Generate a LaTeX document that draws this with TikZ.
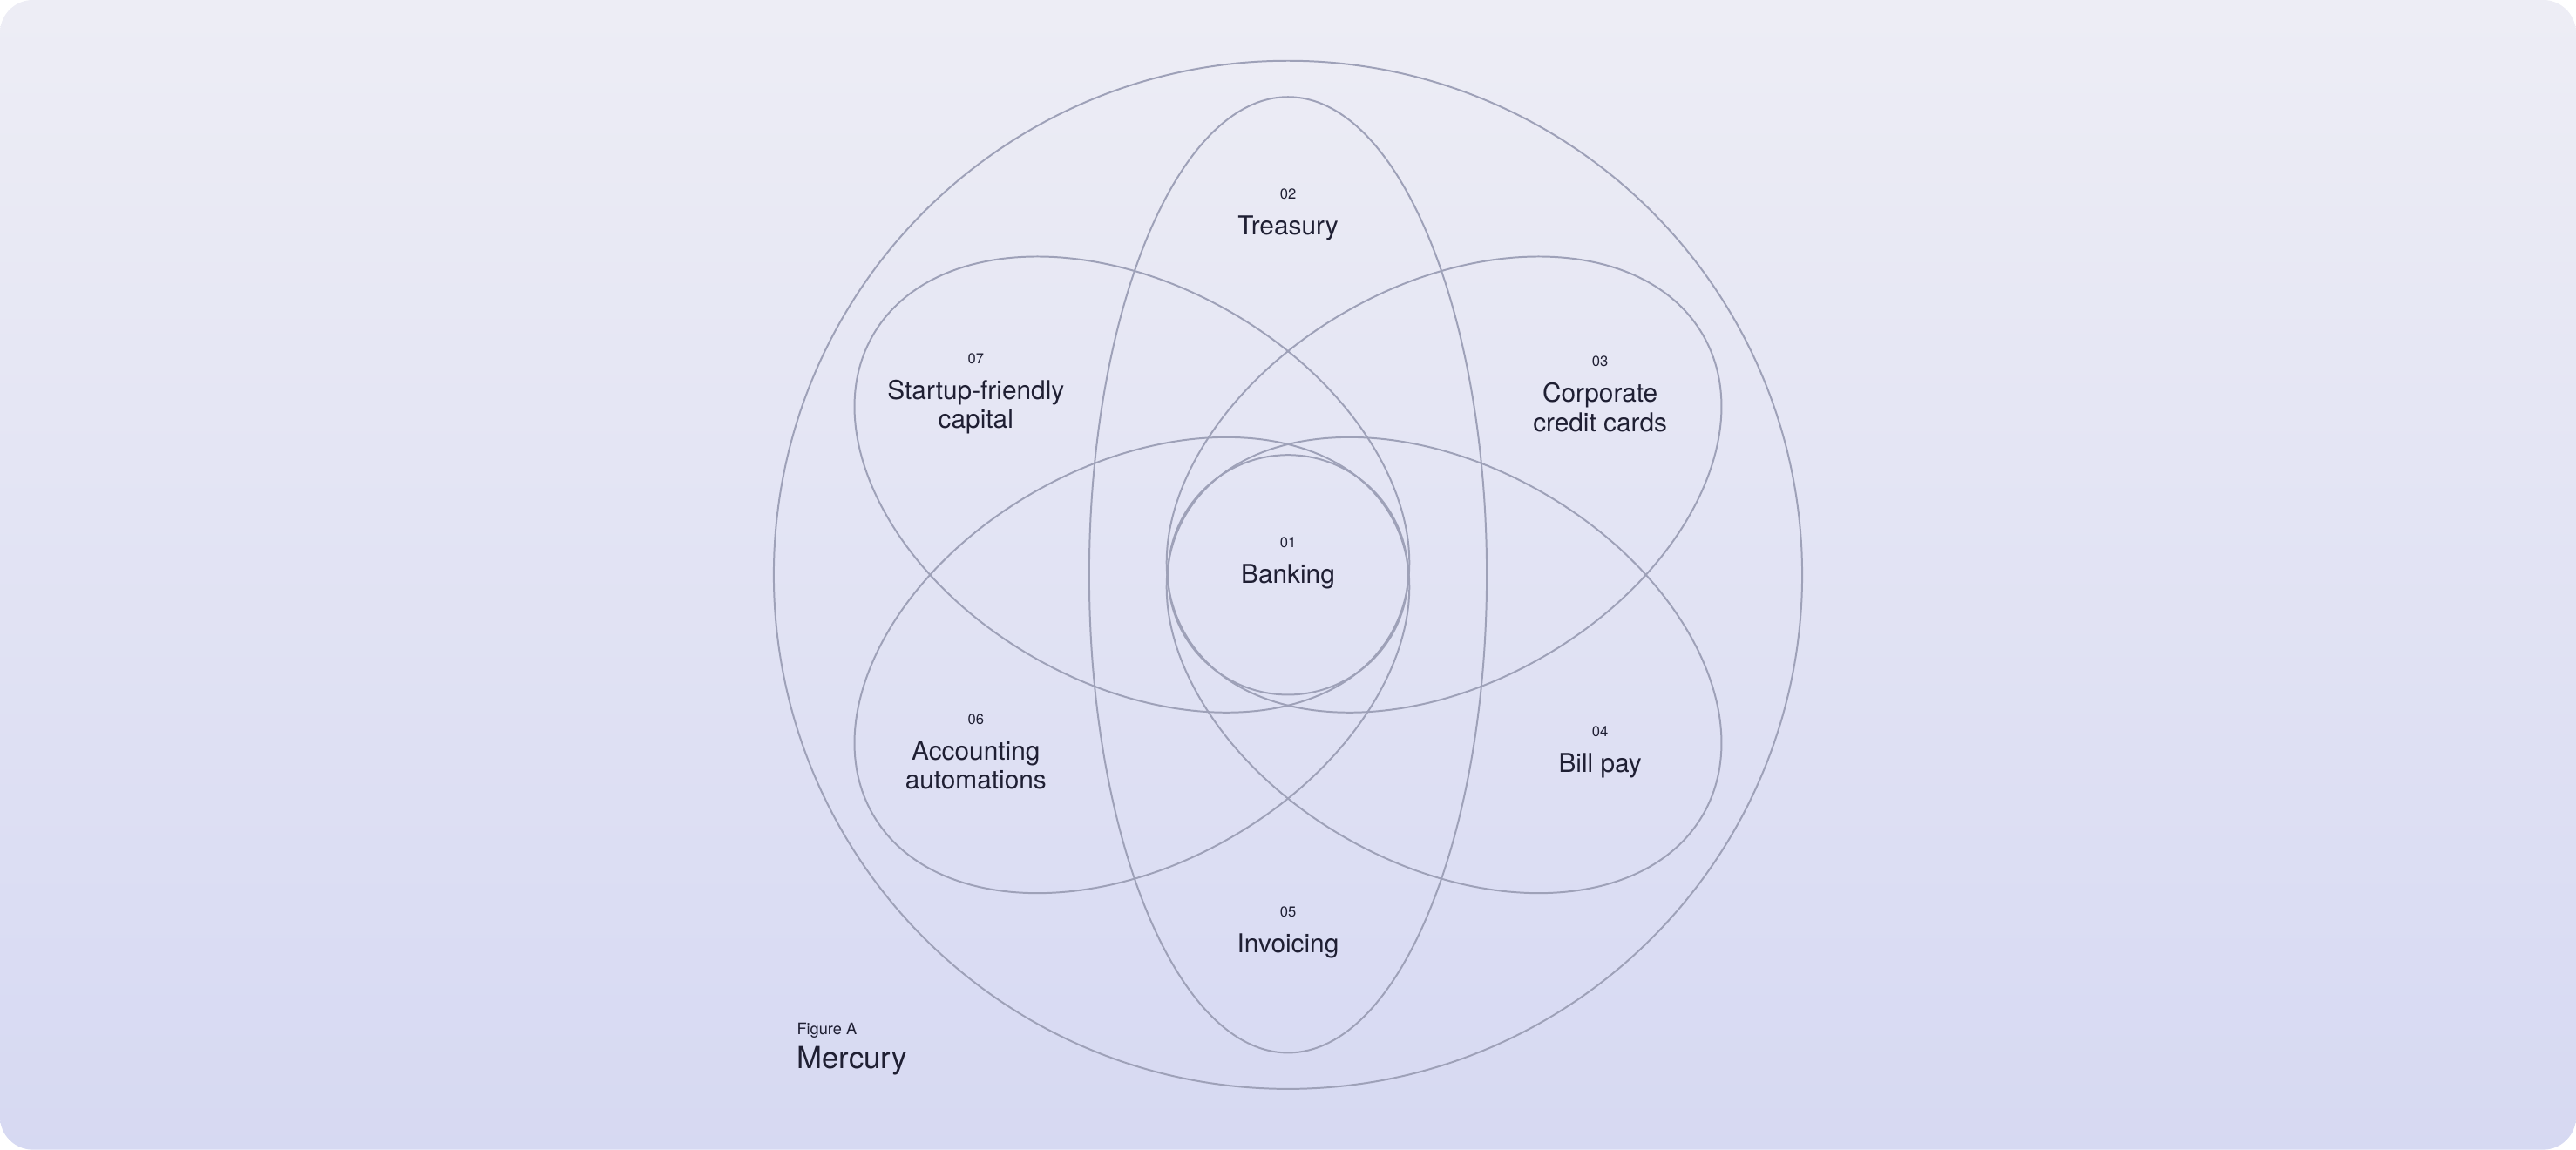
\documentclass[tikz,border=0pt]{standalone}
\usepackage{fontspec}
\setmainfont{TeX Gyre Heros}
\usetikzlibrary{positioning}
\definecolor{ringcol}{rgb}{0.62,0.63,0.72}
\definecolor{inkcol}{rgb}{0.12,0.12,0.20}
\definecolor{bgtop}{rgb}{0.93,0.93,0.96}
\definecolor{bgbot}{rgb}{0.84,0.85,0.95}
\tikzset{
	ring/.style = {draw = ringcol, line width = 0.6pt},
	petal/.style = {font = \fontsize{9}{10}\selectfont, text = inkcol, align = center},
	petalnum/.style = {font = \fontsize{5}{6}\selectfont, text = inkcol, inner sep = 1pt}
}
\begin{document}
\begin{tikzpicture}[x = 0.02cm, y = 0.02cm]
			\useasboundingbox (-784, -350) rectangle (784, 350);
			\shade[top color = bgtop, bottom color = bgbot, rounded corners = 0.4cm] (-784, -350) rectangle (784, 350);
			\draw[ring] (0, 0) circle [radius = 313];
			\draw[ring] (0, 0) circle [radius = 73];
			\draw[ring] (0, 0) ellipse [x radius = 121, y radius = 291];
			\draw[ring, rotate around = {-30:(-95, 55)}] (-95, 55) ellipse [x radius = 182, y radius = 121];
			\draw[ring, rotate around = {30:(95, 55)}] (95, 55) ellipse [x radius = 182, y radius = 121];
			\draw[ring, rotate around = {30:(-95, -55)}] (-95, -55) ellipse [x radius = 182, y radius = 121];
			\draw[ring, rotate around = {-30:(95, -55)}] (95, -55) ellipse [x radius = 182, y radius = 121];
			
			\node[petal] (banking) at (0, -1) {Banking};
			\node[petalnum, above = 1pt of banking] (bankingnum) {01};
			\node[petal] (treasury) at (0, 211) {Treasury};
			\node[petalnum, above = 1pt of treasury] (treasurynum) {02};
			\node[petal] (cards) at (190, 102) {Corporate\\credit cards};
			\node[petalnum, above = 1pt of cards] (cardsnum) {03};
			\node[petal] (billpay) at (190, -116) {Bill pay};
			\node[petalnum, above = 1pt of billpay] (billpaynum) {04};
			\node[petal] (invoicing) at (0, -226) {Invoicing};
			\node[petalnum, above = 1pt of invoicing] (invoicingnum) {05};
			\node[petal] (accounting) at (-190, -116) {Accounting\\automations};
			\node[petalnum, above = 1pt of accounting] (accountingnum) {06};
			\node[petal] (capital) at (-190, 102) {Startup-friendly\\capital};
			\node[petalnum, above = 1pt of capital] (capitalnum) {07};
			
			\node[petal, anchor = west, inner sep = 1pt] (brand) at (-301, -296) {\fontsize{10.5}{12}\selectfont Mercury};
			\node[petalnum, anchor = south west] (figure) at (-301, -284) {\fontsize{5.5}{7}\selectfont Figure A};
		\end{tikzpicture}
\end{document}
